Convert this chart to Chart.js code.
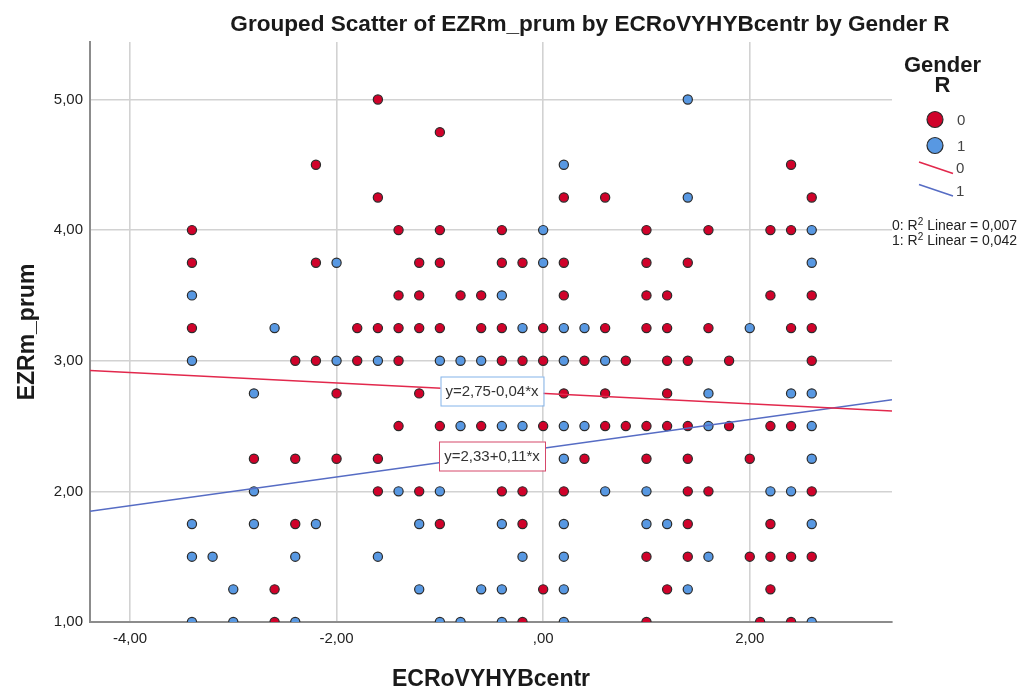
<!DOCTYPE html>
<html>
<head>
<meta charset="utf-8">
<script src="https://cdn.jsdelivr.net/npm/chart.js@4"></script>
<style>
  body { margin: 0; background: #fff; }
  #wrap { position: relative; width: 1034px; height: 693px; overflow: hidden; }
  #chart { position: absolute; left: 0; top: 0; }
  #overlay { position: absolute; left: 0; top: 0; pointer-events: none; font-family: "Liberation Sans", Arial, sans-serif; }
</style>
</head>
<body>
<div id="wrap">
  <canvas id="chart" width="1034" height="693"></canvas>
  <svg id="overlay" width="1034" height="693"></svg>
</div>
<script>
// y levels (EZRm_prum), top to bottom
const levels = [5.00, 4.75, 4.50, 4.25, 4.00, 3.75, 3.50, 3.25, 3.00, 2.75, 2.50, 2.25, 2.00, 1.75, 1.50, 1.25, 1.00];

// ECRoVYHYBcentr values seen at each level, Gender R = 0
const gender0X = [
    [-1.6],
    [-1.0],
    [-2.2, 2.4],
    [-1.6, 0.2, 0.6, 2.6],
    [-3.4, -1.4, -1.0, -0.4, 1.0, 1.6, 2.2, 2.4],
    [-3.4, -2.2, -1.2, -1.0, -0.4, -0.2, 0.2, 1.0, 1.4],
    [-1.4, -1.2, -0.8, -0.6, 0.2, 1.0, 1.2, 2.2, 2.6],
    [-3.4, -1.8, -1.6, -1.4, -1.2, -1.0, -0.6, -0.4, 0, 0.6, 1.0, 1.2, 1.6, 2.4, 2.6],
    [-2.4, -2.2, -1.8, -1.4, -0.4, -0.2, 0, 0.4, 0.8, 1.2, 1.4, 1.8, 2.6],
    [-2.0, -1.2, 0.2, 0.6, 1.2],
    [-1.4, -1.0, -0.6, 0, 0.6, 0.8, 1.0, 1.2, 1.4, 1.8, 2.2, 2.4],
    [-2.8, -2.4, -2.0, -1.6, 0.4, 1.0, 1.4, 2.0],
    [-1.6, -1.2, -0.4, -0.2, 0.2, 1.4, 1.6, 2.6],
    [-2.4, -1.0, -0.2, 1.4, 2.2],
    [1.0, 1.4, 2.0, 2.2, 2.4, 2.6],
    [-2.6, 0, 1.2, 2.2],
    [-2.6, -0.2, 1.0, 2.1, 2.4]
];

// same for Gender R = 1
const gender1X = [
    [1.4],
    [],
    [0.2],
    [1.4],
    [0, 2.6],
    [-2.0, 0, 2.6],
    [-3.4, -0.4],
    [-2.6, -0.2, 0.2, 0.4, 2.0],
    [-3.4, -2.0, -1.6, -1.0, -0.8, -0.6, 0.2, 0.6],
    [-2.8, 1.6, 2.4, 2.6],
    [-0.8, -0.4, -0.2, 0.2, 0.4, 1.6, 2.6],
    [0.2, 2.6],
    [-2.8, -1.4, -1.0, 0.6, 1.0, 2.2, 2.4],
    [-3.4, -2.8, -2.2, -1.2, -0.4, 0.2, 1.0, 1.2, 2.6],
    [-3.4, -3.2, -2.4, -1.6, -0.2, 0.2, 1.6],
    [-3.0, -1.2, -0.6, -0.4, 0.2, 1.4],
    [-3.4, -3.0, -2.4, -1.0, -0.8, -0.4, 0.2, 2.6]
];

const genderCodes = ['0', '1'];
const fitIntercepts = [2.75, 2.33];
const fitSlopes = [-0.04, 0.11];
const fitLabels = ['y=2,75-0,04*x', 'y=2,33+0,11*x'];
const rSquared = ['0,007', '0,042'];

const xTicks = [-4, -2, 0, 2];
const xTickLabels = ['-4,00', '-2,00', ',00', '2,00'];
const yTicks = [1, 2, 3, 4, 5];
const yTickLabels = ['1,00', '2,00', '3,00', '4,00', '5,00'];

const X_MIN = -4.387, X_MAX = 3.377;
const Y_MIN = 1.0, Y_MAX = 5.44;

const RED = 'rgb(208,2,42)';
const BLUE = 'rgb(88,152,226)';
const RED_LINE = 'rgb(226,40,76)';
const BLUE_LINE = 'rgb(86,108,196)';
const FONT = '"Liberation Sans", Arial, sans-serif';

function toPoints(rows) {
    return rows.flatMap((xs, i) => xs.map(x => ({ x: x, y: levels[i] })));
}

function fitLine(i) {
    return [X_MIN, X_MAX].map(x => ({ x: x, y: fitIntercepts[i] + fitSlopes[i] * x }));
}

// boxes with the fit equations
const labelAnchorX = -0.5;
const labelAnchorY = [2.77, 2.27];
const labelBorders = ['rgb(132,180,234)', 'rgb(214,72,106)'];

const fitLabelPlugin = {
    id: 'fitLabels',
    afterDatasetsDraw(chart) {
        const { ctx, scales } = chart;
        ctx.save();
        ctx.font = '15px ' + FONT;
        ctx.textAlign = 'center';
        ctx.textBaseline = 'middle';
        fitLabels.forEach((text, i) => {
            const cx = Math.round(scales.x.getPixelForValue(labelAnchorX));
            const cy = Math.round(scales.y.getPixelForValue(labelAnchorY[i]));
            const w = Math.round(ctx.measureText(text).width + 10);
            const h = 29;
            ctx.fillStyle = '#fff';
            ctx.fillRect(cx - w / 2, cy - h / 2, w, h);
            ctx.strokeStyle = labelBorders[i];
            ctx.lineWidth = 1;
            ctx.strokeRect(cx - w / 2 + 0.5, cy - h / 2 + 0.5, w, h);
            ctx.fillStyle = '#333';
            ctx.fillText(text, cx, cy + 1);
        });
        ctx.restore();
    }
};

const pointStyle = {
    pointRadius: 4.6,
    pointHoverRadius: 4.6,
    pointBorderWidth: 1.2,
    pointBorderColor: '#2b2b2b',
    showLine: false,
    clip: 0
};

new Chart(document.getElementById('chart').getContext('2d'), {
    type: 'scatter',
    data: {
        datasets: [
            {
                label: 'fit 0', data: fitLine(0), showLine: true, borderColor: RED_LINE,
                borderWidth: 1.6, pointRadius: 0, order: 0
            },
            {
                label: 'fit 1', data: fitLine(1), showLine: true, borderColor: BLUE_LINE,
                borderWidth: 1.6, pointRadius: 0, order: 1
            },
            Object.assign({ label: genderCodes[1], data: toPoints(gender1X), backgroundColor: BLUE, order: 2 }, pointStyle),
            Object.assign({ label: genderCodes[0], data: toPoints(gender0X), backgroundColor: RED, order: 3 }, pointStyle)
        ]
    },
    options: {
        responsive: false,
        animation: false,
        devicePixelRatio: 1,
        layout: { padding: { top: 42, right: 142, left: 0, bottom: 0 } },
        plugins: {
            legend: { display: false },
            tooltip: { enabled: false }
        },
        scales: {
            x: {
                type: 'linear',
                position: 'bottom',
                min: X_MIN,
                max: X_MAX,
                afterBuildTicks: s => { s.ticks = xTicks.map(v => ({ value: v })); },
                afterFit: s => { s.height = 71; },
                grid: { color: '#d2d2d2', lineWidth: 1.6, drawTicks: false },
                border: { color: '#8c8c8c', width: 2 },
                ticks: {
                    padding: 8,
                    color: '#222',
                    font: { family: FONT, size: 15 },
                    callback: v => xTickLabels[xTicks.indexOf(v)]
                },
                title: {
                    display: true,
                    text: 'ECRoVYHYBcentr',
                    color: '#1a1a1a',
                    font: { family: FONT, size: 23, weight: 'bold' },
                    padding: { top: 0, bottom: 0 }
                }
            },
            y: {
                type: 'linear',
                min: Y_MIN,
                max: Y_MAX,
                afterBuildTicks: s => { s.ticks = yTicks.map(v => ({ value: v })); },
                afterFit: s => { s.width = 90; },
                grid: { color: '#d2d2d2', lineWidth: 1.6, drawTicks: false },
                border: { color: '#8c8c8c', width: 2 },
                ticks: {
                    padding: 7,
                    color: '#222',
                    font: { family: FONT, size: 15 },
                    callback: v => yTickLabels[yTicks.indexOf(v)]
                },
                title: {
                    display: true,
                    text: 'EZRm_prum',
                    color: '#1a1a1a',
                    font: { family: FONT, size: 23, weight: 'bold' },
                    padding: { top: 14, bottom: 0 }
                }
            }
        }
    },
    plugins: [fitLabelPlugin]
});

// title and legend as svg text
const NS = 'http://www.w3.org/2000/svg';
const svg = document.getElementById('overlay');
function add(tag, attrs, text) {
    const el = document.createElementNS(NS, tag);
    for (const k in attrs) el.setAttribute(k, attrs[k]);
    if (text !== undefined) el.textContent = text;
    svg.appendChild(el);
    return el;
}

add('text', { x: 590, y: 31, 'text-anchor': 'middle', 'font-size': 22.6, 'font-weight': 'bold', fill: '#1a1a1a' },
    'Grouped Scatter of EZRm_prum by ECRoVYHYBcentr by Gender R');

add('text', { x: 942.5, y: 71.5, 'text-anchor': 'middle', 'font-size': 22, 'font-weight': 'bold', fill: '#1a1a1a' }, 'Gender');
add('text', { x: 942.5, y: 91.5, 'text-anchor': 'middle', 'font-size': 22, 'font-weight': 'bold', fill: '#1a1a1a' }, 'R');

const markerColors = [RED, BLUE];
const lineColors = [RED_LINE, BLUE_LINE];
genderCodes.forEach((code, i) => {
    const cy = 119.5 + i * 26;
    add('circle', { cx: 935, cy: cy, r: 8, fill: markerColors[i], stroke: '#2b2b2b', 'stroke-width': 1.2 });
    add('text', { x: 957, y: cy + 5.5, 'font-size': 15, fill: '#444' }, code);
});
genderCodes.forEach((code, i) => {
    const y0 = 162 + i * 22.5;
    add('line', { x1: 919, y1: y0, x2: 953, y2: y0 + 11.5, stroke: lineColors[i], 'stroke-width': 1.6 });
    add('text', { x: 956, y: y0 + 11, 'font-size': 15, fill: '#444' }, code);
});
genderCodes.forEach((code, i) => {
    const t = add('text', { x: 892, y: 230 + i * 15, 'font-size': 14, fill: '#222' });
    t.appendChild(document.createTextNode(code + ': R'));
    const sup = document.createElementNS(NS, 'tspan');
    sup.setAttribute('dy', -5);
    sup.setAttribute('font-size', 10);
    sup.textContent = '2';
    t.appendChild(sup);
    const rest = document.createElementNS(NS, 'tspan');
    rest.setAttribute('dy', 5);
    rest.textContent = ' Linear = ' + rSquared[i];
    t.appendChild(rest);
});
</script>
</body>
</html>
